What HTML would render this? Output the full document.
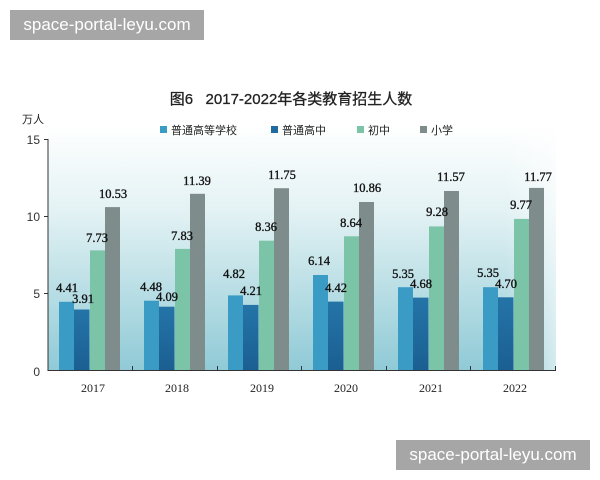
<!DOCTYPE html>
<html><head><meta charset="utf-8"><style>
html,body{margin:0;padding:0;background:#fff;width:600px;height:480px;overflow:hidden}
.wm{position:absolute;background:#a6a6a6;color:#fff;font-family:"Liberation Sans",sans-serif;font-size:17px;line-height:30px;text-align:center}
</style></head><body>
<svg width="600" height="480" style="position:absolute;left:0;top:0" xmlns="http://www.w3.org/2000/svg">
<defs>
<linearGradient id="bg" x1="0" y1="0" x2="0" y2="1">
<stop offset="0" stop-color="#ffffff"/><stop offset="0.35" stop-color="#e3f2f4"/><stop offset="1" stop-color="#8fcad6"/></linearGradient>
<linearGradient id="fade" x1="0" y1="0" x2="1" y2="0">
<stop offset="0.9" stop-color="#fff" stop-opacity="0"/><stop offset="1" stop-color="#fff" stop-opacity="0.6"/></linearGradient>
<linearGradient id="b2" x1="0" y1="0" x2="0" y2="1"><stop offset="0" stop-color="#2474a8"/><stop offset="1" stop-color="#1b5f92"/></linearGradient>
</defs>
<rect x="48" y="125" width="508" height="246" fill="url(#bg)"/>
<rect x="48" y="125" width="508" height="246" fill="url(#fade)"/>
<g font-family="'Liberation Sans','Noto Sans CJK SC',sans-serif" fill="#222">
<text x="291" y="104" font-size="15" text-anchor="middle" stroke="#222" stroke-width="0.3" xml:space="preserve">图6   2017-2022年各类教育招生人数</text>
<text x="22" y="123" font-size="11">万人</text>
<rect x="160" y="126" width="7" height="7" fill="#3a9cc4"/><text x="171" y="134" font-size="11">普通高等学校</text>
<rect x="271" y="126" width="7" height="7" fill="#1f6a9e"/><text x="282" y="134" font-size="11">普通高中</text>
<rect x="357" y="126" width="7" height="7" fill="#7cc4a8"/><text x="368" y="134" font-size="11">初中</text>
<rect x="420" y="126" width="7" height="7" fill="#7f8c8c"/><text x="431" y="134" font-size="11">小学</text>
</g>
<g font-family="'Liberation Sans',sans-serif" font-size="12" fill="#333" text-anchor="end">
<text x="40" y="144">15</text><text x="40" y="221">10</text><text x="40" y="298">5</text><text x="40" y="376">0</text>
</g>
<g stroke="#333" stroke-width="1">
<line x1="48" y1="139" x2="48" y2="371"/><line x1="48" y1="370.5" x2="556" y2="370.5"/>
<line x1="44" y1="139.5" x2="48" y2="139.5"/><line x1="44" y1="216.5" x2="48" y2="216.5"/><line x1="44" y1="293.5" x2="48" y2="293.5"/>
<line x1="132.5" y1="366" x2="132.5" y2="371"/><line x1="217.5" y1="366" x2="217.5" y2="371"/><line x1="301.5" y1="366" x2="301.5" y2="371"/><line x1="386.5" y1="366" x2="386.5" y2="371"/><line x1="470.5" y1="366" x2="470.5" y2="371"/><line x1="555.5" y1="366" x2="555.5" y2="371"/>
</g>
<g>
<rect x="59" y="301.8" width="15" height="68.2" fill="#3a9cc4"/><rect x="74" y="309.5" width="15.5" height="60.5" fill="url(#b2)"/><rect x="90" y="250.4" width="15" height="119.6" fill="#7cc4a8"/><rect x="105" y="207.1" width="15" height="162.9" fill="#7f8c8c"/>
<rect x="144" y="300.7" width="15" height="69.3" fill="#3a9cc4"/><rect x="159" y="306.7" width="15.5" height="63.3" fill="url(#b2)"/><rect x="175" y="248.9" width="15" height="121.1" fill="#7cc4a8"/><rect x="190" y="193.8" width="15" height="176.2" fill="#7f8c8c"/>
<rect x="228" y="295.4" width="15" height="74.6" fill="#3a9cc4"/><rect x="243" y="304.9" width="15.5" height="65.1" fill="url(#b2)"/><rect x="259" y="240.7" width="15" height="129.3" fill="#7cc4a8"/><rect x="274" y="188.2" width="15" height="181.8" fill="#7f8c8c"/>
<rect x="313" y="275" width="15" height="95" fill="#3a9cc4"/><rect x="328" y="301.6" width="15.5" height="68.4" fill="url(#b2)"/><rect x="344" y="236.3" width="15" height="133.7" fill="#7cc4a8"/><rect x="359" y="202" width="15" height="168" fill="#7f8c8c"/>
<rect x="398" y="287.2" width="15" height="82.8" fill="#3a9cc4"/><rect x="413" y="297.6" width="15.5" height="72.4" fill="url(#b2)"/><rect x="429" y="226.4" width="15" height="143.6" fill="#7cc4a8"/><rect x="444" y="191" width="15" height="179" fill="#7f8c8c"/>
<rect x="483" y="287.2" width="15" height="82.8" fill="#3a9cc4"/><rect x="498" y="297.3" width="15.5" height="72.7" fill="url(#b2)"/><rect x="514" y="218.9" width="15" height="151.1" fill="#7cc4a8"/><rect x="529" y="187.9" width="15" height="182.1" fill="#7f8c8c"/>
</g>
<g font-family="'Liberation Serif',serif" font-size="12.5" fill="#111" stroke="#111" stroke-width="0.35" text-anchor="middle">
<text x="67" y="292">4.41</text><text x="83" y="303">3.91</text><text x="97" y="242">7.73</text><text x="113" y="198">10.53</text>
<text x="151" y="291">4.48</text><text x="167" y="301">4.09</text><text x="182" y="240">7.83</text><text x="197" y="185">11.39</text>
<text x="234" y="278">4.82</text><text x="251" y="295">4.21</text><text x="266" y="231">8.36</text><text x="282" y="179">11.75</text>
<text x="319" y="265">6.14</text><text x="336" y="292">4.42</text><text x="351" y="227">8.64</text><text x="367" y="192">10.86</text>
<text x="403" y="278">5.35</text><text x="421" y="288">4.68</text><text x="437" y="216">9.28</text><text x="451" y="181">11.57</text>
<text x="488" y="277">5.35</text><text x="506" y="288">4.70</text><text x="521" y="209">9.77</text><text x="538" y="181">11.77</text>
</g>
<g font-family="'Liberation Serif',serif" font-size="12" fill="#222" text-anchor="middle">
<text x="93" y="392">2017</text><text x="177" y="392">2018</text><text x="262" y="392">2019</text><text x="346" y="392">2020</text><text x="431" y="392">2021</text><text x="515" y="392">2022</text>
</g>
</svg>
<div class="wm" style="left:10px;top:10px;width:194px;height:30px">space-portal-leyu.com</div>
<div class="wm" style="left:396px;top:440px;width:194px;height:30px">space-portal-leyu.com</div>
</body></html>
